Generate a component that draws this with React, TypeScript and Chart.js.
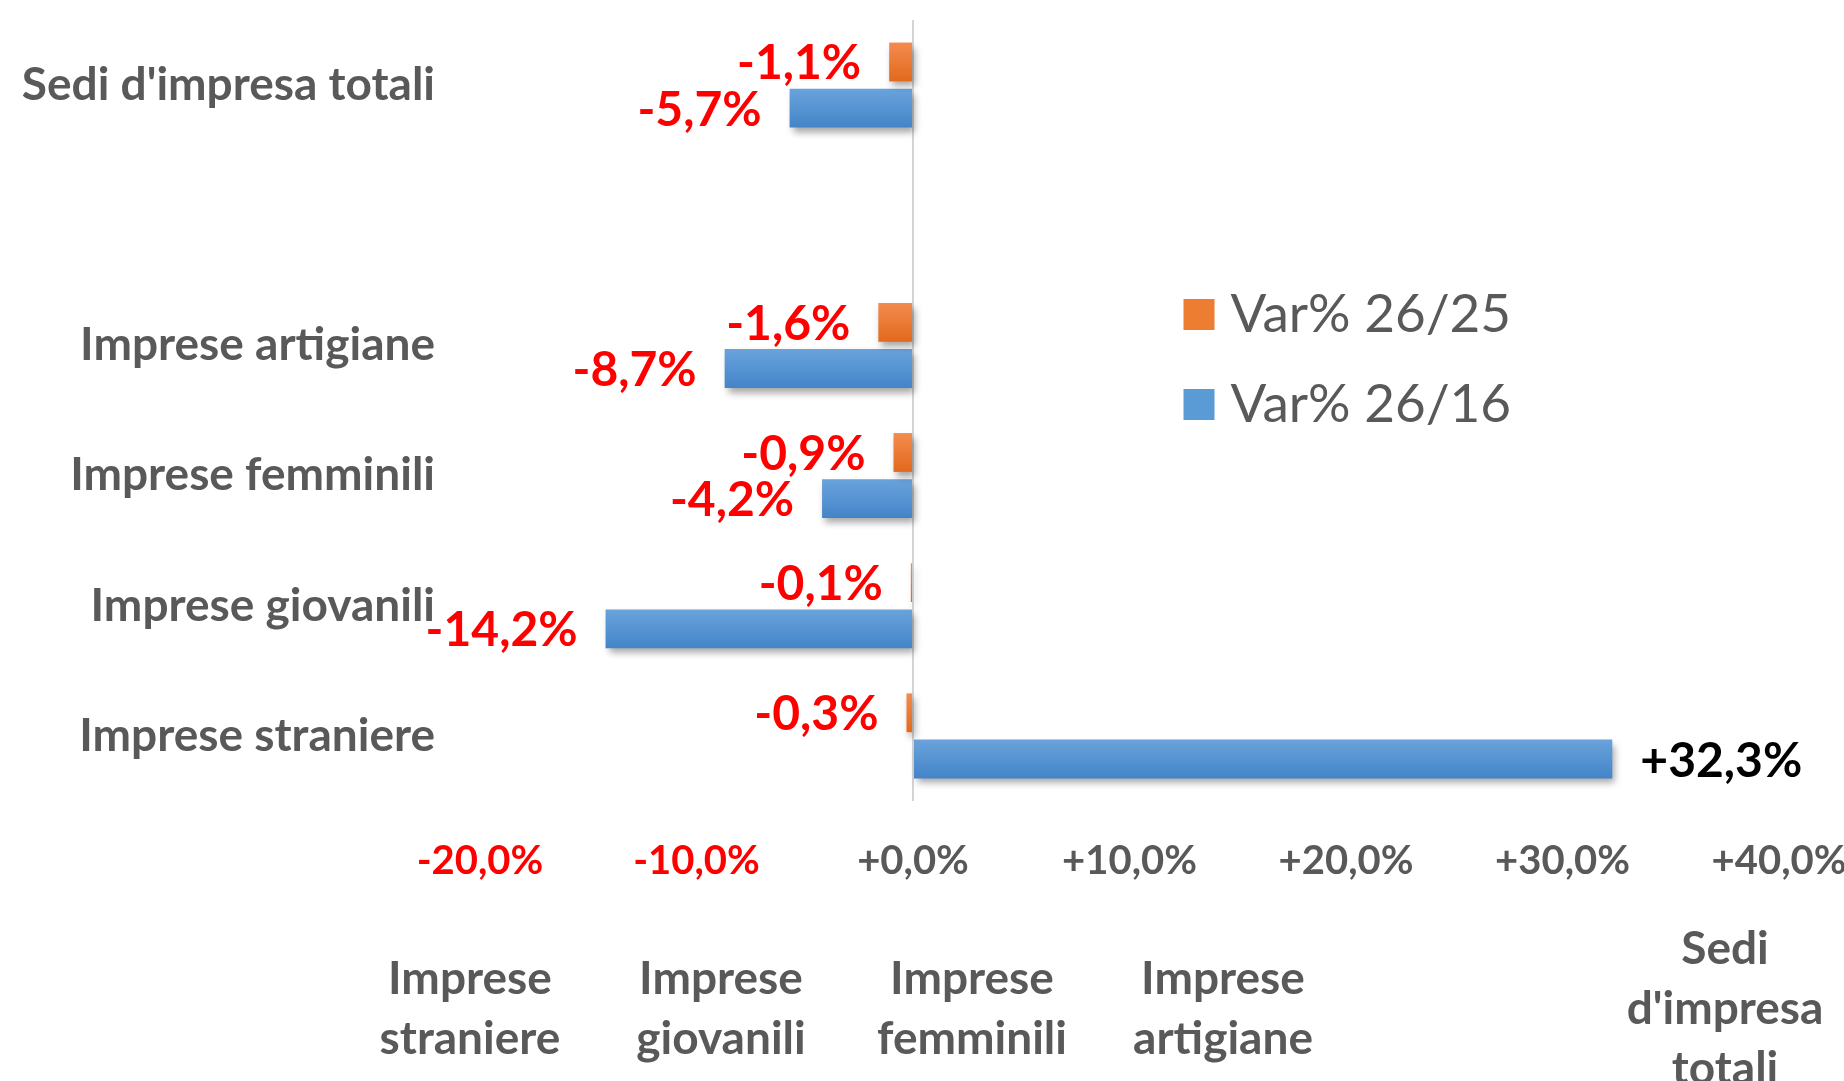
import React, { useEffect, useRef } from 'react';
import { Chart, registerables } from 'chart.js';

Chart.register(...registerables);

// ---------- data ----------
const categories: string[] = [
  "Sedi d'impresa totali",
  '',
  'Imprese artigiane',
  'Imprese femminili',
  'Imprese giovanili',
  'Imprese straniere',
];
const seriesNames: string[] = ['Var% 26/25', 'Var% 26/16'];
const var2625: (number | null)[] = [-1.1, null, -1.6, -0.9, -0.1, -0.3];
const var2616: (number | null)[] = [-5.7, null, -8.7, -4.2, -14.2, 32.3];
const xTickMin = -20;
const xTickMax = 40;
const xTickStep = 10;
// secondary (bottom) category axis, listed left to right
const bottomCategories: string[] = [...categories].reverse();

// ---------- style ----------
const FONT = 'Lato, "Open Sans", sans-serif';
const GRAY = '#595959';
const RED = '#ff0000';
const ORANGE_TOP = '#f38b4f';
const ORANGE_BOT = '#e2691c';
const BLUE_TOP = '#6aa3dc';
const BLUE_BOT = '#4384c8';

const fmt = (v: number) => (v >= 0 ? '+' : '') + v.toFixed(1).replace('.', ',') + '%';

const gradientPlugin = {
  id: 'barGradient',
  beforeDatasetsDraw(chart: any) {
    const ctx = chart.ctx as CanvasRenderingContext2D;
    chart.data.datasets.forEach((ds: any, di: number) => {
      const meta = chart.getDatasetMeta(di);
      meta.data.forEach((el: any) => {
        if (el.y == null || !isFinite(el.y) || !el.height) return;
        const top = el.y - el.height / 2;
        const g = ctx.createLinearGradient(0, top, 0, top + el.height);
        g.addColorStop(0, ds.gradTop);
        g.addColorStop(1, ds.gradBot);
        el.options = { ...el.options, backgroundColor: g };
      });
    });
    ctx.save();
    ctx.shadowColor = 'rgba(0,0,0,0.35)';
    ctx.shadowBlur = 7;
    ctx.shadowOffsetX = 3;
    ctx.shadowOffsetY = 5;
  },
  afterDatasetsDraw(chart: any) {
    chart.ctx.restore();
  },
};

const valueLabelPlugin = {
  id: 'valueLabels',
  afterDatasetsDraw(chart: any) {
    const ctx = chart.ctx as CanvasRenderingContext2D;
    ctx.save();
    ctx.font = `bold 48px ${FONT}`;
    ctx.textBaseline = 'middle';
    chart.data.datasets.forEach((ds: any, di: number) => {
      const meta = chart.getDatasetMeta(di);
      meta.data.forEach((el: any, i: number) => {
        const v = ds.data[i];
        if (v == null) return;
        const neg = v < 0;
        ctx.fillStyle = neg ? RED : '#000000';
        ctx.textAlign = neg ? 'right' : 'left';
        ctx.fillText(fmt(v), neg ? el.x - 28 : el.x + 28, el.y + 2);
      });
    });
    ctx.restore();
  },
};

const legendPlacePlugin = {
  id: 'legendPlace',
  afterLayout(chart: any) {
    const lg = chart.legend;
    const ca = chart.chartArea;
    if (!lg || !ca) return;
    const left = ca.left + 677;
    const top = ca.top + 231;
    lg.left = left;
    lg.top = top;
    lg.right = left + lg.width;
    lg.bottom = top + lg.height;
  },
};

export default function App() {
  const ref = useRef<HTMLCanvasElement | null>(null);

  useEffect(() => {
    document.body.style.margin = '0';
    const canvas = ref.current;
    if (!canvas) return;

    const chart = new Chart(canvas, {
      type: 'bar',
      data: {
        labels: categories,
        datasets: [
          {
            label: seriesNames[0],
            data: var2625,
            backgroundColor: '#ed7d31',
            gradTop: ORANGE_TOP,
            gradBot: ORANGE_BOT,
            categoryPercentage: 0.71,
            barPercentage: 0.84,
          } as any,
          {
            label: seriesNames[1],
            data: var2616,
            backgroundColor: '#5b9bd5',
            gradTop: BLUE_TOP,
            gradBot: BLUE_BOT,
            categoryPercentage: 0.71,
            barPercentage: 0.84,
          } as any,
        ],
      },
      options: {
        indexAxis: 'y',
        responsive: false,
        animation: false,
        devicePixelRatio: 1,
        layout: { padding: { top: 20, right: 65, bottom: 0, left: 0 } },
        plugins: {
          tooltip: { enabled: false },
          legend: {
            position: 'chartArea',
            align: 'start',
            labels: {
              font: { family: FONT, size: 53 },
              color: GRAY,
              usePointStyle: true,
              pointStyle: 'rect',
              boxWidth: 10,
              boxHeight: 31,
              padding: 37,
            },
          },
        },
        scales: {
          x: {
            type: 'linear',
            position: 'bottom',
            weight: 0,
            min: xTickMin,
            max: xTickMax,
            ticks: {
              stepSize: xTickStep,
              padding: 36,
              font: { family: FONT, size: 40, weight: 'bold' },
              color: (c: any) => (c.tick && c.tick.value < 0 ? RED : GRAY),
              callback: (v: any) => fmt(Number(v)),
              maxRotation: 0,
            },
            grid: {
              drawTicks: false,
              color: (c: any) => (c.tick && c.tick.value === 0 ? '#d4d4d4' : 'transparent'),
              lineWidth: 2,
            },
            border: { display: false },
            afterFit: (s: any) => {
              s.height = 80;
              s.paddingLeft = 0;
              s.paddingRight = 0;
            },
          },
          x2: {
            type: 'linear',
            position: 'bottom',
            weight: 1,
            min: 0.04,
            max: 5.215,
            bounds: 'data',
            afterBuildTicks: (s: any) => {
              s.ticks = bottomCategories.map((_, i) => ({ value: i }));
            },
            ticks: {
              autoSkip: false,
              maxRotation: 0,
              crossAlign: 'center',
              padding: 68,
              font: { family: FONT, size: 46, weight: 'bold', lineHeight: '60px' },
              color: GRAY,
              callback: (_v: any, i: number) => {
                const t = bottomCategories[i] || '';
                return t ? t.split(' ') : '';
              },
            },
            grid: { display: false, drawTicks: false },
            border: { display: false },
            afterFit: (s: any) => {
              s.height = 200;
              s.paddingLeft = 0;
              s.paddingRight = 0;
            },
          },
          y: {
            type: 'category',
            position: 'left',
            ticks: {
              padding: 45,
              font: { family: FONT, size: 46, weight: 'bold' },
              color: GRAY,
              autoSkip: false,
            },
            grid: { display: false, drawTicks: false },
            border: { display: false },
            afterFit: (s: any) => {
              s.width = 480;
              s.paddingTop = 0;
              s.paddingBottom = 0;
            },
          },
        },
      } as any,
      plugins: [legendPlacePlugin, gradientPlugin, valueLabelPlugin],
    });

    return () => chart.destroy();
  }, []);

  return (
    <div style={{ width: 1844, height: 1081, background: '#ffffff' }}>
      <canvas ref={ref} width={1844} height={1081} style={{ display: 'block' }} />
    </div>
  );
}
